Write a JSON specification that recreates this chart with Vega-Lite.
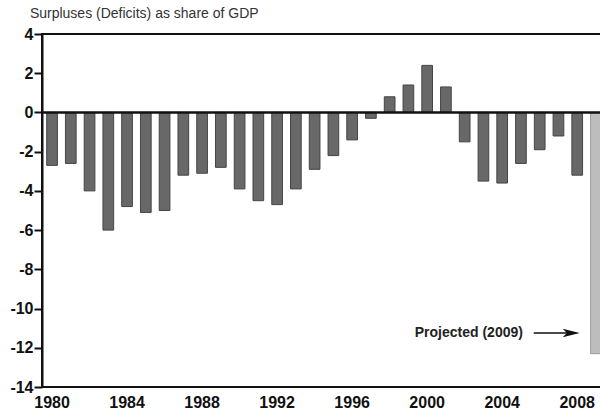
{
  "$schema": "https://vega.github.io/schema/vega-lite/v6.json",
  "width": 564,
  "height": 353,
  "padding": {"left": 9, "top": 7, "right": 0, "bottom": 0},
  "background": "white",
  "config": {
    "view": {"stroke": "#111", "strokeWidth": 2},
    "font": "Liberation Sans"
  },
  "title": {
    "text": "Surpluses (Deficits) as share of GDP",
    "anchor": "start",
    "frame": "bounds",
    "fontSize": 14,
    "fontWeight": "normal",
    "font": "Liberation Sans",
    "color": "#333",
    "dx": 20,
    "offset": 5
  },
  "datasets": {
    "bars": [
      {"year": 1980, "value": -2.7, "kind": "actual"},
      {"year": 1981, "value": -2.6, "kind": "actual"},
      {"year": 1982, "value": -4.0, "kind": "actual"},
      {"year": 1983, "value": -6.0, "kind": "actual"},
      {"year": 1984, "value": -4.8, "kind": "actual"},
      {"year": 1985, "value": -5.1, "kind": "actual"},
      {"year": 1986, "value": -5.0, "kind": "actual"},
      {"year": 1987, "value": -3.2, "kind": "actual"},
      {"year": 1988, "value": -3.1, "kind": "actual"},
      {"year": 1989, "value": -2.8, "kind": "actual"},
      {"year": 1990, "value": -3.9, "kind": "actual"},
      {"year": 1991, "value": -4.5, "kind": "actual"},
      {"year": 1992, "value": -4.7, "kind": "actual"},
      {"year": 1993, "value": -3.9, "kind": "actual"},
      {"year": 1994, "value": -2.9, "kind": "actual"},
      {"year": 1995, "value": -2.2, "kind": "actual"},
      {"year": 1996, "value": -1.4, "kind": "actual"},
      {"year": 1997, "value": -0.3, "kind": "actual"},
      {"year": 1998, "value": 0.8, "kind": "actual"},
      {"year": 1999, "value": 1.4, "kind": "actual"},
      {"year": 2000, "value": 2.4, "kind": "actual"},
      {"year": 2001, "value": 1.3, "kind": "actual"},
      {"year": 2002, "value": -1.5, "kind": "actual"},
      {"year": 2003, "value": -3.5, "kind": "actual"},
      {"year": 2004, "value": -3.6, "kind": "actual"},
      {"year": 2005, "value": -2.6, "kind": "actual"},
      {"year": 2006, "value": -1.9, "kind": "actual"},
      {"year": 2007, "value": -1.2, "kind": "actual"},
      {"year": 2008, "value": -3.2, "kind": "actual"},
      {"year": 2009, "value": -12.3, "kind": "projected"}
    ],
    "zero": [{"v": 0}],
    "note": [{"year": 2005, "v": -11.25, "label": "Projected (2009)"}],
    "arrow": [{"year": 2006, "year2": 2008, "v": -11.25}],
    "head": [{"year": 2008, "v": -11.25}]
  },
  "layer": [
    {
      "data": {"name": "bars"},
      "mark": {"type": "bar", "strokeWidth": 1},
      "encoding": {
        "x": {
          "field": "year",
          "type": "ordinal",
          "scale": {"paddingInner": 0.43, "paddingOuter": 0.25},
          "axis": {
            "values": [1980, 1984, 1988, 1992, 1996, 2000, 2004, 2008],
            "title": null,
            "labelAngle": 0,
            "ticks": false,
            "domain": false,
            "labelFontSize": 16,
            "labelFontWeight": "bold",
            "labelColor": "#111",
            "labelPadding": 7,
            "labelOverlap": false
          }
        },
        "y": {
          "field": "value",
          "type": "quantitative",
          "scale": {"domain": [-14, 4], "nice": false},
          "axis": {
            "tickCount": 9,
            "labelExpr": "'' + datum.value",
            "title": null,
            "labelOverlap": false,
            "labelSeparation": 0,
            "labelBound": false,
            "labelFlush": false,
            "grid": false,
            "domain": true,
            "domainColor": "#111",
            "domainWidth": 2,
            "ticks": true,
            "tickColor": "#111",
            "tickWidth": 2,
            "tickSize": 8,
            "tickOpacity": 1,
            "labelFontSize": 16,
            "labelFontWeight": "bold",
            "labelColor": "#111",
            "labelPadding": 1
          }
        },
        "color": {
          "field": "kind",
          "type": "nominal",
          "scale": {"domain": ["actual", "projected"], "range": ["#686868", "#bdbdbd"]},
          "legend": null
        },
        "stroke": {
          "field": "kind",
          "type": "nominal",
          "scale": {"domain": ["actual", "projected"], "range": ["#454545", "#9a9a9a"]},
          "legend": null
        }
      }
    },
    {
      "data": {"name": "zero"},
      "mark": {"type": "rule", "color": "#111", "strokeWidth": 2.5},
      "encoding": {"y": {"field": "v", "type": "quantitative"}}
    },
    {
      "data": {"name": "note"},
      "mark": {"type": "text", "align": "right", "baseline": "middle", "fontSize": 14, "fontWeight": "bold", "color": "#222", "dx": 2},
      "encoding": {
        "x": {"field": "year", "type": "ordinal"},
        "y": {"field": "v", "type": "quantitative"},
        "text": {"field": "label"}
      }
    },
    {
      "data": {"name": "arrow"},
      "mark": {"type": "rule", "color": "#111", "strokeWidth": 1.5, "xOffset": -6, "x2Offset": -6},
      "encoding": {
        "x": {"field": "year", "type": "ordinal"},
        "x2": {"field": "year2"},
        "y": {"field": "v", "type": "quantitative"}
      }
    },
    {
      "data": {"name": "head"},
      "mark": {"type": "point", "filled": true, "color": "#111", "opacity": 1, "size": 289, "xOffset": -6, "shape": "M -1 -0.5 L 1 0 L -1 0.5 L -0.5 0 Z"},
      "encoding": {
        "x": {"field": "year", "type": "ordinal"},
        "y": {"field": "v", "type": "quantitative"}
      }
    }
  ]
}
